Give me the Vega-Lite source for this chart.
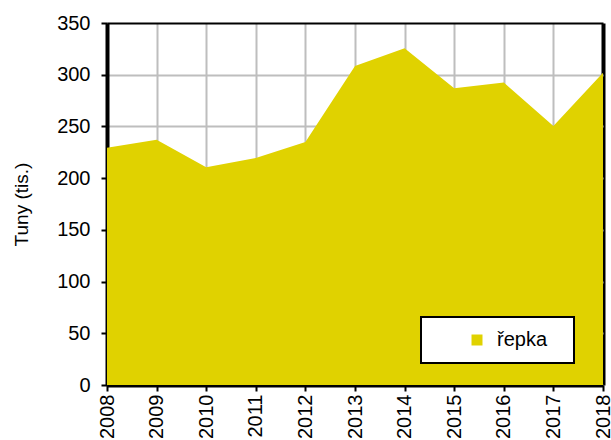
{
  "$schema": "https://vega.github.io/schema/vega-lite/v6.json",
  "width": 496,
  "height": 362,
  "autosize": {"type": "none"},
  "padding": {"left": 107, "top": 23, "right": 8, "bottom": 55},
  "background": "white",
  "config": {
    "font": "Liberation Sans",
    "view": {"stroke": null},
    "axis": {
      "labelFont": "Liberation Sans",
      "titleFont": "Liberation Sans",
      "labelColor": "#000000",
      "titleColor": "#000000",
      "labelFontSize": 20,
      "gridOpacity": 1,
      "domainColor": "#000000",
      "domainWidth": 4,
      "tickColor": "#000000",
      "tickWidth": 2,
      "tickSize": 6
    }
  },
  "data": {
    "values": [
      {"year": 2008, "value": 229.5, "name": "řepka"},
      {"year": 2009, "value": 237, "name": "řepka"},
      {"year": 2010, "value": 210.5, "name": "řepka"},
      {"year": 2011, "value": 219.5, "name": "řepka"},
      {"year": 2012, "value": 235, "name": "řepka"},
      {"year": 2013, "value": 308.5, "name": "řepka"},
      {"year": 2014, "value": 325.5, "name": "řepka"},
      {"year": 2015, "value": 287, "name": "řepka"},
      {"year": 2016, "value": 292.5, "name": "řepka"},
      {"year": 2017, "value": 250.5, "name": "řepka"},
      {"year": 2018, "value": 302, "name": "řepka"}
    ]
  },
  "mark": {"type": "area", "opacity": 1},
  "encoding": {
    "x": {
      "field": "year",
      "type": "quantitative",
      "scale": {"domain": [2008, 2018], "nice": false, "zero": false},
      "axis": {
        "values": [2008, 2009, 2010, 2011, 2012, 2013, 2014, 2015, 2016, 2017, 2018],
        "format": "d",
        "labelAngle": -90,
        "labelAlign": "right",
        "labelBaseline": "middle",
        "labelPadding": 3,
        "labelFlush": false,
        "labelOverlap": false,
        "title": null,
        "grid": true,
        "gridColor": {"condition": {"test": "datum.value === 2018", "value": "#000000"}, "value": "#BEBEBE"},
        "gridWidth": {"condition": {"test": "datum.value === 2018", "value": 4}, "value": 2}
      }
    },
    "y": {
      "field": "value",
      "type": "quantitative",
      "scale": {"domain": [0, 350], "nice": false},
      "axis": {
        "values": [0, 50, 100, 150, 200, 250, 300, 350],
        "title": "Tuny (tis.)",
        "titleFontSize": 19,
        "titleFontWeight": "normal",
        "titlePadding": 25,
        "labelPadding": 11,
        "grid": true,
        "gridColor": {"condition": {"test": "datum.value === 350", "value": "#000000"}, "value": "#BEBEBE"},
        "gridWidth": 2
      }
    },
    "color": {
      "field": "name",
      "type": "nominal",
      "scale": {"range": ["#E0D200"]},
      "legend": {
        "orient": "none",
        "legendX": 314,
        "legendY": 294,
        "title": "\u00a0",
        "titleOrient": "right",
        "titleFontSize": 1,
        "titlePadding": 14,
        "symbolType": "square",
        "symbolSize": 121,
        "symbolStrokeWidth": 0,
        "symbolOpacity": 1,
        "symbolOffset": 33,
        "labelOffset": 10,
        "labelFontSize": 20,
        "labelColor": "#000000",
        "labelFont": "Liberation Sans",
        "padding": 13,
        "fillColor": "white",
        "strokeColor": "#000000",
        "encode": {"legend": {"update": {"strokeWidth": {"value": 2}}}}
      }
    }
  }
}
